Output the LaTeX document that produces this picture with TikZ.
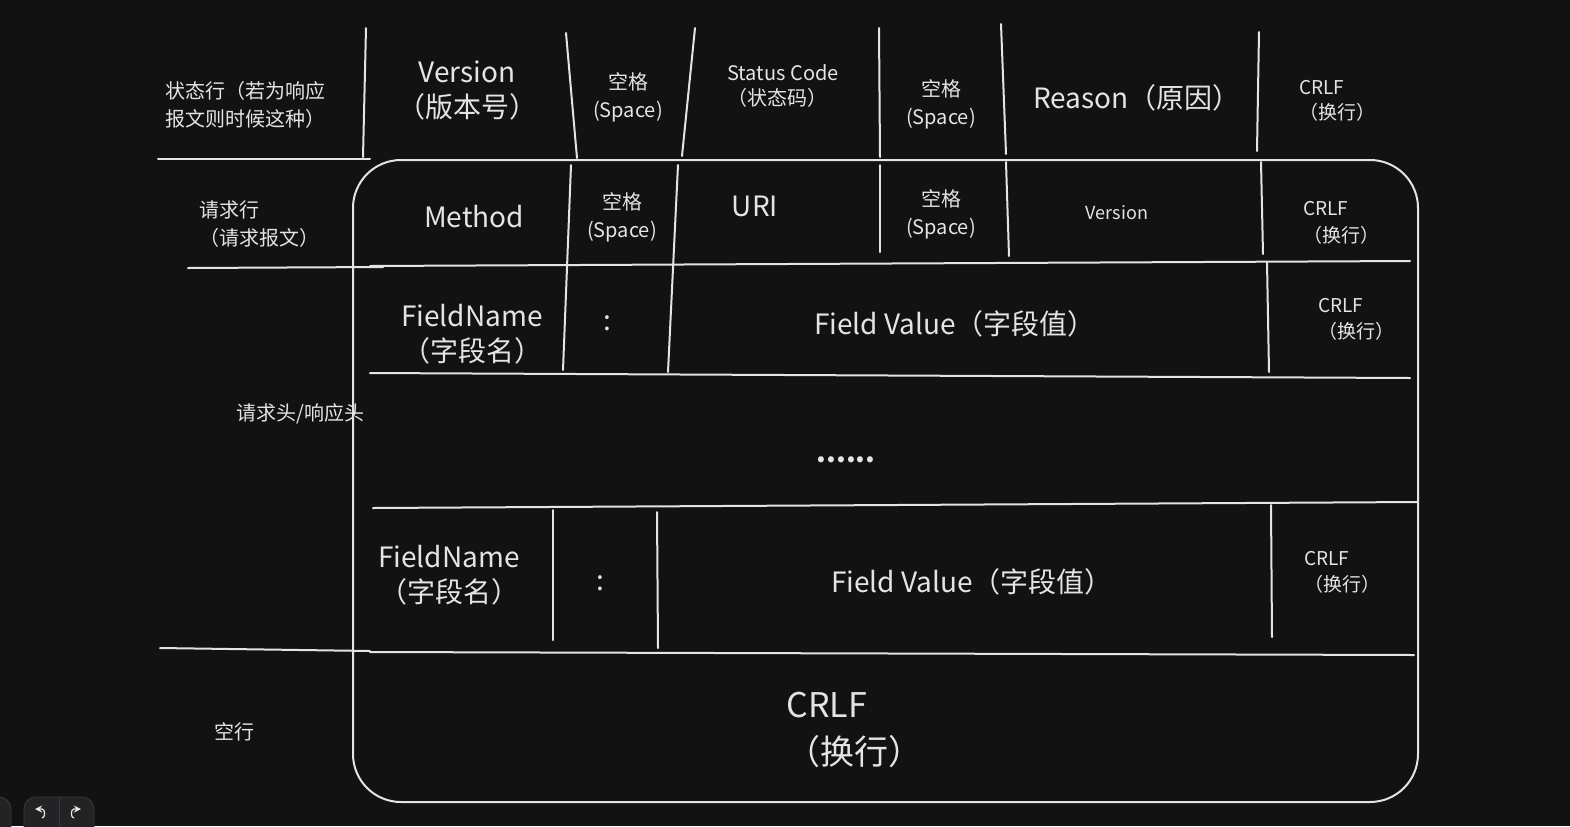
\documentclass[tikz,border=0pt]{standalone}
\usepackage{fontspec}
\setmainfont{Noto Sans CJK SC}
\definecolor{bg}{HTML}{121212}
\definecolor{ink}{HTML}{E4E4E4}
\definecolor{btnfill}{HTML}{232325}
\definecolor{btnedge}{HTML}{3A3A3C}
\newcommand{\fsz}[2]{\fontsize{#1}{#2}\selectfont}

\begin{document}
\begin{tikzpicture}[x=0.5pt, y=-0.5pt]
  \tikzset{rule/.style={draw=ink, line width=1pt, line cap=round},
    cell/.style={text=ink, align=center, inner sep=0pt},
    side/.style={text=ink, align=left, inner sep=0pt, anchor=west, font=\fsz{10}{14}},
    small/.style={cell, font=\fsz{10}{14}},
    big/.style={cell, font=\fsz{14}{17.5}},
    icon/.style={draw=ink!80, line width=0.6pt, ->, >=stealth}}
  \fill[bg] (0,0) rectangle (1570,826);
  \useasboundingbox (0,0) rectangle (1570,826);

  % status line
  \draw[rule] (366,28) -- (363,157);
  \draw[rule] (566,33) -- (577,158);
  \draw[rule] (695,28) -- (682,156);
  \draw[rule] (879,28) -- (880,157);
  \draw[rule] (1001,24) -- (1006,154);
  \draw[rule] (1259,32) -- (1257,151);
  \draw[rule] (158,159) -- (370,159);

  % message frame
  \draw[rule, rounded corners=24] (353,160) rectangle (1418,802);

  % request line
  \draw[rule] (188,268) -- (383,267);
  \draw[rule] (370,266) -- (1410,261);
  \draw[rule] (571,165) -- (563,370);
  \draw[rule] (678,165) -- (668,372);
  \draw[rule] (880,165) -- (880,252);
  \draw[rule] (1006,162) -- (1009,256);
  \draw[rule] (1261,162) -- (1263,254);

  % headers
  \draw[rule] (1267,262) -- (1269,372);
  \draw[rule] (370,373) -- (1410,378);
  \draw[rule] (373,508) -- (1418,502);
  \draw[rule] (553,510) -- (553,640);
  \draw[rule] (657,512) -- (658,648);
  \draw[rule] (1271,505) -- (1272,637);
  \draw[rule] (370,652) -- (1414,655);
  \draw[rule] (160,648) -- (370,651);

  % labels on the left
  \node[side] (statuslbl) at (165,105) {状态行（若为响应\\报文则时候这种）};
  \node[side] (reqlbl) at (199,224) {请求行\\（请求报文）};
  \node[side] (headlbl) at (236,414) {请求头/响应头};
  \node[side] (blanklbl) at (214,732) {空行};

  % status line cells
  \node[big] (version) at (467,90) {Version\\（版本号）};
  \node[small] (space1) at (628,97) {空格\\(Space)};
  \node[small, align=left, anchor=west, font=\fsz{10}{12.5}] (code) at (727,86) {Status Code\\（状态码）};
  \node[small] (space2) at (941,104) {空格\\(Space)};
  \node[big] (reason) at (1137,98) {Reason（原因）};
  \node[small, align=left, anchor=west, font=\fsz{9.5}{12.5}] (crlfa) at (1299,101) {CRLF\\（换行）};

  % request line cells
  \node[big] (method) at (474,217) {Method};
  \node[small] (space3) at (622,217) {空格\\(Space)};
  \node[big] (uri) at (755,206) {URI};
  \node[small] (space4) at (941,214) {空格\\(Space)};
  \node[cell, font=\fsz{9}{11}] (version2) at (1117,213) {Version};
  \node[small, align=left, anchor=west, font=\fsz{9.5}{13.5}] (crlfb) at (1303,223) {CRLF\\（换行）};

  % header cells
  \node[big] (namea) at (472,334) {FieldName\\（字段名）};
  \node[big] (colona) at (607,323) {:};
  \node[big] (valuea) at (955,324) {Field Value（字段值）};
  \node[small, align=left, anchor=west, font=\fsz{9.5}{13}] (crlfc) at (1318,319) {CRLF\\（换行）};
  \node[big] (dots) at (846,460) {\textbf{......}};
  \node[big] (nameb) at (449,575) {FieldName\\（字段名）};
  \node[big] (colonb) at (600,583) {:};
  \node[big] (valueb) at (972,582) {Field Value（字段值）};
  \node[small, align=left, anchor=west, font=\fsz{9.5}{13}] (crlfd) at (1304,572) {CRLF\\（换行）};

  % blank line
  \node[cell, align=left, anchor=west, font=\fsz{17}{23.5}] (crlfe) at (786,730) {CRLF\\（换行）};

  % undo / redo buttons
  \draw[fill=btnfill, draw=btnedge, rounded corners=6] (-20,797) rectangle (11,850);
  \draw[fill=btnfill, draw=btnedge, rounded corners=6] (24,797) rectangle (94,850);
  \draw[btnedge] (59,797) -- (59,826);
  \draw[icon] (42,818) to[out=0, in=0] (42,809) -- (35,809);
  \draw[icon] (74,818) to[out=180, in=180] (74,809) -- (81,809);
\end{tikzpicture}
\end{document}
